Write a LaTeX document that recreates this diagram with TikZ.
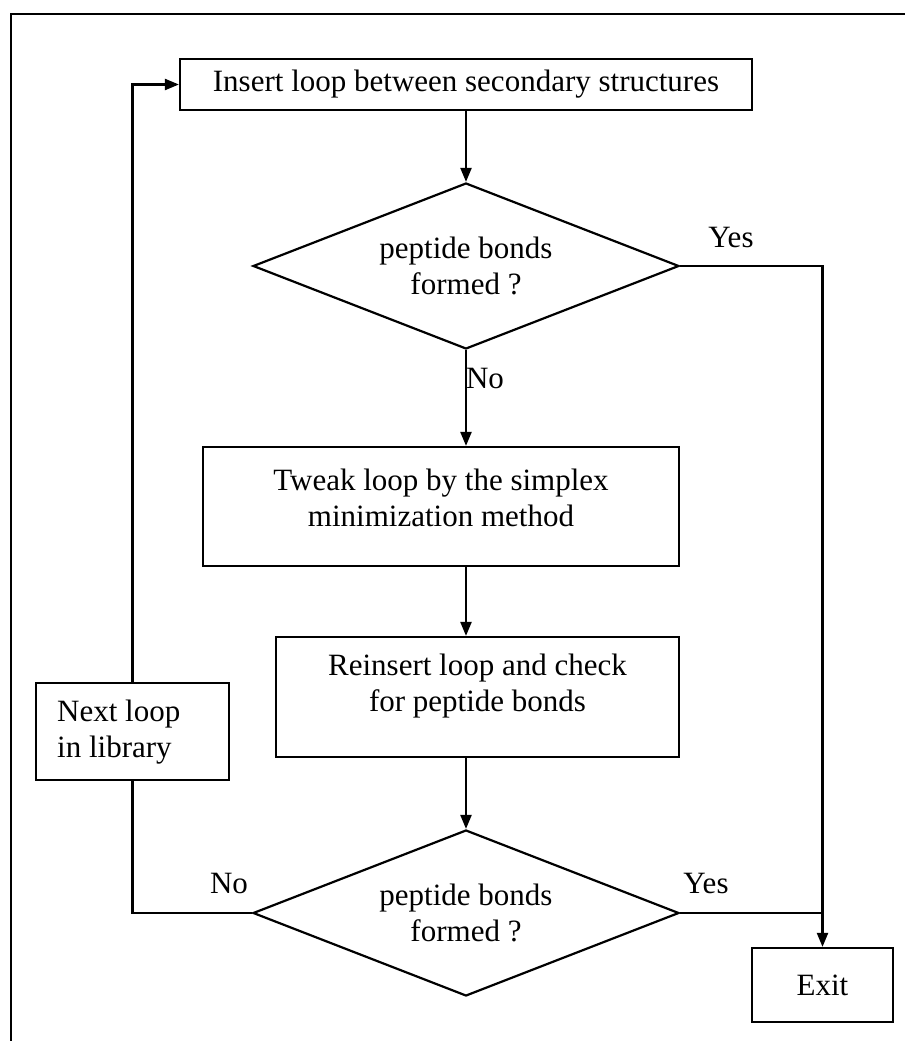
\documentclass[tikz,border=0pt]{standalone}
\usepackage{fontspec}
\setmainfont{Liberation Serif}
\usetikzlibrary{shapes.geometric,arrows.meta}
\begin{document}
\begin{tikzpicture}[x=1pt,y=-1pt,
  every node/.style={font=\fontsize{31}{36}\selectfont},
  line/.style={line width=2.2pt},
  arrow/.style={line, -{Triangle[length=14pt,width=11pt]}},
  procbox/.style={draw, line width=2.2pt, inner sep=0pt},
  decision/.style={draw, line width=2.2pt, diamond, shape aspect=2.57,
    inner sep=0pt, minimum width=426pt, minimum height=166pt, align=center},
  caption/.style={align=center, inner sep=0pt}]
\useasboundingbox (0,0) rectangle (905,1041);

% outer frame (top and left edges)
\draw[line width=2pt] (11,1041) -- (11,14) -- (905,14);

% process boxes and decisions
\node[procbox, minimum width=572pt, minimum height=51pt] (b1) at (466,84.5)
  {Insert loop between secondary structures};
\node[decision] (d1) at (466,266) {peptide bonds\\formed ?};
\node[procbox, minimum width=476pt, minimum height=119pt] (b2) at (441,506.5) {};
\node[caption] (t2) at (441,498) {Tweak loop by the simplex\\minimization method};
\node[procbox, minimum width=403pt, minimum height=120pt] (b3) at (477.5,697) {};
\node[caption] (t3) at (477.5,686) {Reinsert loop and check\\for peptide bonds};
\node[decision] (d2) at (466,913) {peptide bonds\\formed ?};
\node[procbox, minimum width=193pt, minimum height=97pt] (nx) at (132.5,731.5) {};
\node[caption, align=left, anchor=west] (tn) at (57,732) {Next loop\\in library};
\node[procbox, minimum width=141pt, minimum height=74pt] (ex) at (822.5,985) {Exit};

% branch labels
\node[caption] (y1) at (731,238) {Yes};
\node[caption] (n1) at (485,378) {No};
\node[caption] (n2) at (229,883) {No};
\node[caption] (y2) at (706,883) {Yes};

% connectors
\draw[arrow] (b1.south -| d1.north) -- (d1.north);
\draw[arrow] (d1.south) -- (d1.south |- b2.north);
\draw[arrow] (d1.south |- b2.south) -- (d1.south |- b3.north);
\draw[arrow] (d2.north |- b3.south) -- (d2.north);
\draw[arrow] (d1.east) -- (ex.north |- d1.east) -- (ex.north);
\draw[line] (d2.east) -- (ex.north |- d2.east);
\draw[line] (d2.west) -- (nx.south |- d2.west) -- (nx.south);
\draw[arrow] (nx.north) -- (nx.north |- b1.west) -- (b1.west);
\end{tikzpicture}
\end{document}
